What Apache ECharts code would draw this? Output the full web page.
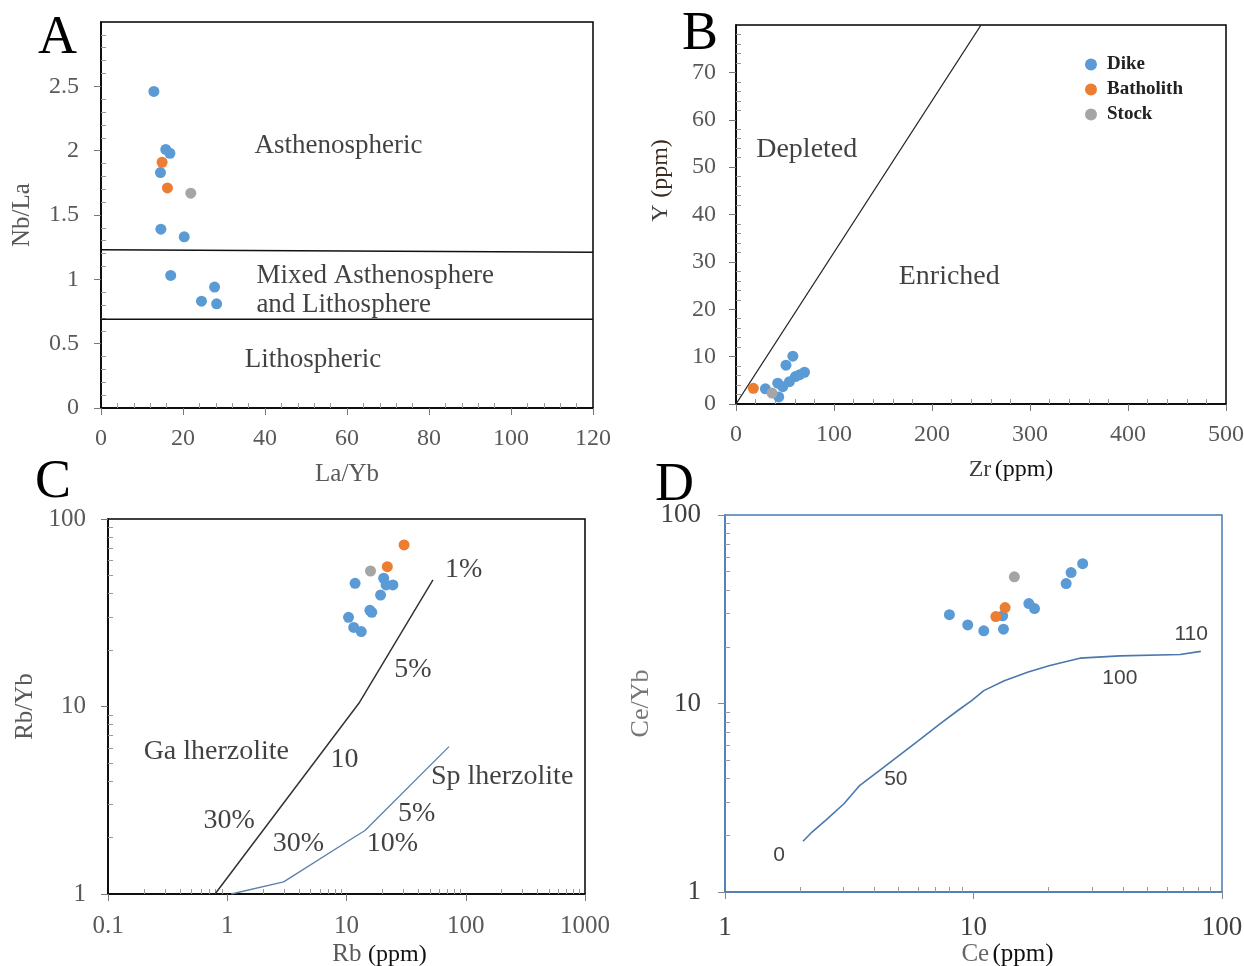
<!DOCTYPE html>
<html>
<head>
<meta charset="utf-8">
<script src="https://cdn.jsdelivr.net/npm/echarts@6/dist/echarts.min.js"></script>
<style>
html,body{margin:0;padding:0;background:#fff;}
#chart{width:1244px;height:966px;}
</style>
</head>
<body>
<div id="chart"></div>
<script>
// ---------------- DATA ----------------
const seriesNames = ['Dike', 'Batholith', 'Stock'];

// Panel A : La/Yb vs Nb/La
const aDike = [[12.9,2.46],[15.8,2.01],[16.8,1.98],[14.5,1.83],[14.6,1.39],[20.3,1.33],[17.0,1.03],[27.7,0.94],[24.5,0.83],[28.2,0.81]];
const aBatholith = [[14.9,1.91],[16.2,1.71]];
const aStock = [[21.9,1.67]];
const aBoundaryUpper = [[0,1.23],[120,1.21]];
const aBoundaryLower = [[0,0.69],[120,0.69]];
const aXTicks = ['0','20','40','60','80','100','120'];
const aYTicks = ['0','0.5','1','1.5','2','2.5'];
const aCenterLabels = [[57.9,2.04,'Asthenospheric'],[51.7,0.375,'Lithospheric']];
const aLeftLabels = [[37.9,1.026,'Mixed Asthenosphere'],[37.9,0.80,'and Lithosphere']];

// Panel B : Zr vs Y
const bDike = [[30,3.2],[43.6,1.5],[42.6,4.4],[47.7,3.65],[51,8.2],[58,10.1],[54.5,4.7],[60.6,5.8],[65,6.2],[69.9,6.7]];
const bBatholith = [[17.7,3.3]];
const bStock = [[36.8,2.3]];
const bDivide = [[0,0],[250,80]];
const bXTicks = ['0','100','200','300','400','500'];
const bYTicks = ['0','10','20','30','40','50','60','70'];
const bLabels = [[72.2,53.6,'Depleted'],[217.6,26.95,'Enriched']];

// Panel C : Rb vs Rb/Yb (log-log)
const cDike = [[11.8,45.4],[20.5,48.3],[21.5,44.5],[24.5,44.5],[19.3,39.3],[15.7,32.6],[16.3,31.8],[10.4,29.9],[11.5,26.4],[13.3,25.1]];
const cBatholith = [[30.4,72.7],[22.0,55.7]];
const cStock = [[15.9,52.8]];
const cGaLherzolite = [[0.79,1],[12.7,10.4],[53.1,47.3]];
const cSpLherzolite = [[1.08,1],[2.97,1.16],[10.9,1.96],[14.3,2.18],[72.3,6.11]];
const cXTicks = ['0.1','1','10','100','1000'];
const cYTicks = ['1','10','100'];
const cLabels = [[96,53.5,'1%'],[36.1,15.7,'5%'],[0.81,5.74,'Ga lherzolite'],[9.6,5.23,'10'],[1.04,2.46,'30%'],
                 [3.96,1.86,'30%'],[24.3,1.86,'10%'],[38.7,2.67,'5%'],[202,4.22,'Sp lherzolite']];

// Panel D : Ce vs Ce/Yb (log-log)
const dDike = [[8.0,29.6],[9.48,26.1],[11.0,24.3],[13.2,24.8],[13.1,29.2],[16.7,33.9],[17.6,31.9],[23.6,43.3],[24.7,49.5],[27.5,55.2]];
const dBatholith = [[12.3,28.9],[13.4,32.3]];
const dStock = [[14.6,47.0]];
const dMeltCurve = [[2.06,1.86],[2.24,2.08],[2.56,2.42],[3.01,2.94],[3.49,3.68],[4.36,4.60],[5.97,6.31],[7.33,7.80],
                    [8.65,9.18],[9.86,10.4],[11.0,11.7],[13.3,13.2],[16.6,14.7],[20.3,15.9],[26.8,17.4],[38.8,17.9],[67.8,18.2],[82.2,18.9]];
const dXTicks = ['1','10','100'];
const dYTicks = ['1','10','100'];
const dLabels = [[1.65,1.56,'0'],[4.87,3.99,'50'],[38.8,13.7,'100'],[75.2,23.4,'110']];

// ---------------- STYLE ----------------
const SERIF = "'Liberation Serif','Times New Roman',serif";
const SANS = "'Liberation Sans',Arial,sans-serif";
const COLORS = {Dike:'#5b9bd5', Batholith:'#ed7d31', Stock:'#a5a5a5'};
const GRAY = '#595959';

const grids = [
  {left:101, top:22, width:492, height:386},
  {left:736, top:25, width:490, height:379},
  {left:108, top:519, width:477, height:375},
  {left:725, top:515, width:497, height:377}
];
const frameColors = ['#000','#000','#000','#4a7ab4'];

function linMinor(min, max, step, sub){
  const out = [];
  for (let v = min; v <= max + 1e-9; v += step/sub) {
    const r = Math.round(v/step*sub);
    if (r % sub !== 0) out.push(+v.toFixed(6));
  }
  return out;
}
function logMinor(min, max){
  const out = [];
  for (let d = Math.log10(min); d < Math.log10(max) - 1e-9; d++) {
    for (let k = 2; k <= 9; k++) out.push(+(k*Math.pow(10,d)).toPrecision(6));
  }
  return out;
}
function logLabel(ticks, min){
  return v => ticks[Math.round(Math.log10(v) - Math.log10(min))] || '';
}

function mainAxis(i, type, min, max, extra){
  return Object.assign({
    gridIndex: i, type: type, min: min, max: max,
    axisLine: {show: true, onZero: false, lineStyle: {color: frameColors[i], width: 1.5}},
    axisTick: {show: true, inside: false, length: 7, lineStyle: {color: i===3 ? '#888' : '#777'}},
    splitLine: {show: false}
  }, extra);
}
function minorAxis(i, type, min, max, values, pos){
  return {
    gridIndex: i, type: type, min: min, max: max, position: pos,
    axisLine: {show: false}, axisLabel: {show: false}, splitLine: {show: false},
    axisTick: {show: true, inside: true, length: 5, customValues: values, lineStyle: {color: '#999'}}
  };
}

const xAxes = [
  mainAxis(0,'value',0,120,{interval:20, position:'bottom',
    axisLabel:{fontFamily:SERIF,fontSize:24,color:GRAY,margin:19, formatter:v=>aXTicks[Math.round(v/20)]},
    name:'La/Yb', nameLocation:'middle', nameGap:54, nameTextStyle:{fontFamily:SERIF,fontSize:25,color:GRAY}}),
  mainAxis(1,'value',0,500,{interval:100, position:'bottom',
    axisLabel:{fontFamily:SERIF,fontSize:24,color:GRAY,margin:19, formatter:v=>bXTicks[Math.round(v/100)]},
    name:'{g|Zr} {k|(ppm)}', nameLocation:'middle', nameGap:54,
    nameTextStyle:{padding:[0,0,0,60], rich:{g:{fontFamily:SERIF,fontSize:24,color:'#404040'},k:{fontFamily:SERIF,fontSize:24,color:'#111'}}}}),
  mainAxis(2,'log',0.1,1000,{logBase:10, position:'bottom',
    axisLabel:{fontFamily:SERIF,fontSize:25,color:GRAY,margin:20, formatter:logLabel(cXTicks,0.1)},
    name:'{g|Rb}  {k|(ppm)}', nameLocation:'middle', nameGap:48,
    nameTextStyle:{padding:[0,0,0,66], rich:{g:{fontFamily:SERIF,fontSize:25,color:GRAY},k:{fontFamily:SERIF,fontSize:24,color:'#111'}}}}),
  mainAxis(3,'log',1,100,{logBase:10, position:'bottom',
    axisLabel:{fontFamily:SERIF,fontSize:27,color:'#404040',margin:22, formatter:logLabel(dXTicks,1)},
    name:'{g|Ce} {k|(ppm)}', nameLocation:'middle', nameGap:45,
    nameTextStyle:{padding:[0,0,0,68], rich:{g:{fontFamily:SERIF,fontSize:25,color:'#666'},k:{fontFamily:SERIF,fontSize:25,color:'#111'}}}}),
  minorAxis(0,'value',0,120,linMinor(0,120,20,5),'bottom'),
  minorAxis(1,'value',0,500,linMinor(0,500,100,5),'bottom'),
  minorAxis(2,'log',0.1,1000,logMinor(0.1,1000),'bottom'),
  minorAxis(3,'log',1,100,logMinor(1,100),'bottom')
];

const yAxes = [
  mainAxis(0,'value',0,3,{interval:0.5, position:'left',
    axisLabel:{fontFamily:SERIF,fontSize:24,color:GRAY,margin:22,showMaxLabel:false, formatter:v=>aYTicks[Math.round(v/0.5)] || ''},
    name:'Nb/La', nameLocation:'middle', nameGap:66, nameTextStyle:{fontFamily:SERIF,fontSize:25,color:GRAY}}),
  mainAxis(1,'value',0,80,{interval:10, position:'left',
    axisLabel:{fontFamily:SERIF,fontSize:24,color:GRAY,margin:20,showMaxLabel:false, formatter:v=>bYTicks[Math.round(v/10)] || ''},
    name:'{g|Y}  {k|(ppm)}', nameLocation:'middle', nameGap:63,
    nameTextStyle:{padding:[0,0,0,68], rich:{g:{fontFamily:SERIF,fontSize:24,color:'#404040'},k:{fontFamily:SERIF,fontSize:24,color:'#3a2a20'}}}}),
  mainAxis(2,'log',1,100,{logBase:10, position:'left',
    axisLabel:{fontFamily:SERIF,fontSize:25,color:GRAY,margin:22, formatter:logLabel(cYTicks,1)},
    name:'Rb/Yb', nameLocation:'middle', nameGap:70, nameTextStyle:{fontFamily:SERIF,fontSize:25,color:GRAY}}),
  mainAxis(3,'log',1,100,{logBase:10, position:'left',
    axisLabel:{fontFamily:SERIF,fontSize:27,color:'#404040',margin:24, formatter:logLabel(dYTicks,1)},
    name:'Ce/Yb', nameLocation:'middle', nameGap:71, nameTextStyle:{fontFamily:SERIF,fontSize:26,color:'#777'}}),
  minorAxis(0,'value',0,3,linMinor(0,3,0.5,5),'left'),
  minorAxis(1,'value',0,80,linMinor(0,80,10,5),'left'),
  minorAxis(2,'log',1,100,logMinor(1,100),'left'),
  minorAxis(3,'log',1,100,logMinor(1,100),'left')
];

const series = [];
const panelData = [
  [aDike, aBatholith, aStock],
  [bDike, bBatholith, bStock],
  [cDike, cBatholith, cStock],
  [dDike, dBatholith, dStock]
];
function lineSeries(i, data, color, width){
  return {type:'line', xAxisIndex:i, yAxisIndex:i, data:data, symbol:'none', silent:true,
          lineStyle:{color:color, width:width}, z:2, animation:false};
}
function textSeries(i, data, font, size, align, color){
  return {type:'scatter', xAxisIndex:i, yAxisIndex:i, data:data, symbolSize:1, silent:true,
          itemStyle:{color:'rgba(0,0,0,0)'}, z:5,
          label:{show:true, position:'inside', align:align, verticalAlign:'middle', formatter:p=>p.data[2],
                 fontFamily:font, fontSize:size, color:color}};
}

series.push(lineSeries(0, aBoundaryUpper, '#111', 1.5));
series.push(lineSeries(0, aBoundaryLower, '#111', 1.5));
series.push(lineSeries(1, bDivide, '#222', 1.3));
series.push(lineSeries(2, cGaLherzolite, '#333', 1.5));
series.push(lineSeries(2, cSpLherzolite, '#5a80aa', 1.3));
series.push(lineSeries(3, dMeltCurve, '#4a78ad', 1.6));

panelData.forEach((arr, i) => {
  arr.forEach((d, k) => {
    series.push({type:'scatter', name:seriesNames[k], xAxisIndex:i, yAxisIndex:i, data:d,
      symbol:'circle', symbolSize:11, itemStyle:{color:COLORS[seriesNames[k]], opacity:1}, z:3 + k*0.1});
  });
});

series.push(textSeries(0, aCenterLabels, SERIF, 27, 'center', '#111'));
series.push(textSeries(0, aLeftLabels, SERIF, 27, 'left', '#111'));
series.push(textSeries(1, bLabels, SERIF, 28, 'center', '#111'));
series.push(textSeries(2, cLabels, SERIF, 28, 'center', '#111'));
series.push(textSeries(3, dLabels, SANS, 21, 'center', '#111'));

const letters = [['A',38,12],['B',682,8],['C',35,456],['D',655,459]];

const option = {
  animation: false,
  backgroundColor: '#fff',
  grid: grids.map((g,i) => Object.assign({show:true, borderColor:frameColors[i], borderWidth:1.5,
        backgroundColor:'transparent', containLabel:false, outerBoundsMode:'none'}, g)),
  xAxis: xAxes,
  yAxis: yAxes,
  legend: {
    data: seriesNames, orient:'vertical', left:1080, top:50, itemGap:6,
    itemWidth:22, itemHeight:12, icon:'circle',
    textStyle:{fontFamily:SERIF, fontSize:19, color:'#222', fontWeight:'bold'},
    selectedMode:false
  },
  graphic: letters.map(l => ({type:'text', left:l[1], top:l[2], silent:true,
    style:{text:l[0], font:"54px 'Liberation Serif','Times New Roman',serif", fill:'#000'}})),
  series: series
};

const chart = echarts.init(document.getElementById('chart'), null, {renderer:'canvas'});
chart.setOption(option);
</script>
</body>
</html>
